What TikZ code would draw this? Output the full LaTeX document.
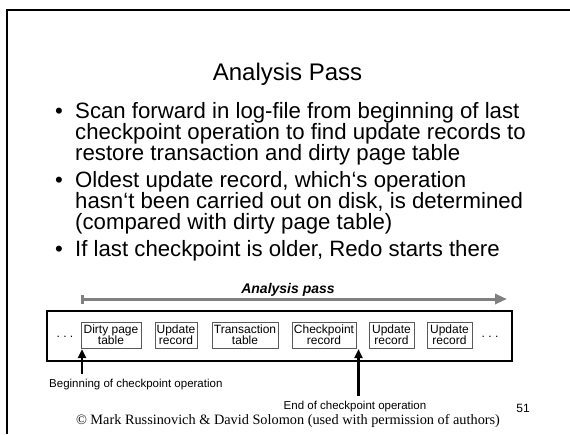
\documentclass[tikz,border=0pt]{standalone}
\usepackage{fontspec}
\setmainfont{Liberation Sans}
\newfontfamily\timesfont{Liberation Serif}
\usetikzlibrary{arrows.meta}
\newcommand\logentryfont{\fontsize{12}{11.2}\selectfont\lineskiplimit=-20pt\relax}

\begin{document}
\begin{tikzpicture}
  [x=1pt,y=-1pt,
   logentry/.style={draw=black!65,line width=.6pt,minimum height=26pt,inner sep=1pt,
     align=center,font=\logentryfont},
   bulletdot/.style={anchor=base west,inner sep=0pt,font=\fontsize{22.2}{21}\selectfont},
   bullettext/.style={anchor=base west,align=left,inner sep=0pt,font=\fontsize{22.2}{21}\selectfont},
   opnote/.style={inner sep=0pt,font=\fontsize{11.5}{12}\selectfont},
   logdots/.style={inner sep=0pt,font=\fontsize{12}{12}\selectfont},
   markarrow/.style={line width=2.5pt,-{Triangle[length=9pt,width=8pt]}}]
  \useasboundingbox (0,0) rectangle (570,434);
  \draw[line width=2pt] (7,434) -- (7,10) -- (570,10);

  \node[anchor=base,inner sep=0pt,font=\fontsize{24}{26}\selectfont] (title) at (287.5,80) {Analysis Pass};
  % bullets (text nodes sit on the baseline of their last line)
  \node[bulletdot] (dot1) at (55,118) {\textbullet};
  \node[bullettext] (scan) at (75,160) {Scan forward in log-file from beginning of last\\
    checkpoint operation to find update records to\\restore transaction and dirty page table};
  \node[bulletdot] (dot2) at (55,187) {\textbullet};
  \node[bullettext] (oldest) at (75,229) {Oldest update record, which‘s operation\\
    hasn‘t been carried out on disk, is determined\\(compared with dirty page table)};
  \node[bulletdot] (dot3) at (55,256.5) {\textbullet};
  \node[bullettext] (redo) at (75,256.5) {If last checkpoint is older, Redo starts there};

  % log file with records
  \node[anchor=base,inner sep=0pt,font=\fontsize{14}{14}\selectfont\bfseries\itshape] (passlabel) at (288,293) {Analysis pass};
  \coordinate (passstart) at (81,299);
  \coordinate (passend) at (507,299);
  \draw[black!50,line width=3pt,{Bar[width=9pt]}-{Triangle[length=12pt,width=10pt]}] (passstart) -- (passend);
  \node[draw,line width=2pt,minimum width=465pt,minimum height=50pt] (logfile) at (279.5,336) {};
  \node[logdots] (leftdots) at (65,337) {.\ .\ .};
  \node[logentry,minimum width=60pt] (dirty) at (111,335) {Dirty page\\table};
  \node[logentry,minimum width=42pt] (update1) at (176,335) {Update\\record};
  \node[logentry,minimum width=66pt] (transaction) at (245,335) {Transaction\\table};
  \node[logentry,minimum width=64pt] (checkpoint) at (324,335) {Checkpoint\\record};
  \node[logentry,minimum width=45pt] (update2) at (391.5,335) {Update\\record};
  \node[logentry,minimum width=45pt] (update3) at (449.5,335) {Update\\record};
  \node[logdots] (rightdots) at (490,337) {.\ .\ .};

  % checkpoint marks
  \node[opnote,anchor=base west] (beginlabel) at (49,387) {Beginning of checkpoint operation};
  \coordinate (beginfoot) at (82,374);
  \coordinate (begintip) at (82,349);
  \draw[markarrow] (beginfoot) -- (begintip);
  \node[opnote,anchor=base] (endlabel) at (355,409) {End of checkpoint operation};
  \coordinate (endfoot) at (358.5,396);
  \coordinate (endtip) at (358.5,349);
  \draw[markarrow] (endfoot) -- (endtip);

  \node[anchor=base,inner sep=0pt,font=\fontsize{12}{12}\selectfont] (pageno) at (523,412) {51};
  \node[anchor=base,inner sep=0pt,font=\timesfont\fontsize{14.3}{15}\selectfont] (credit) at (288,424)
    {\textcopyright{} Mark Russinovich \& David Solomon (used with permission of authors)};
\end{tikzpicture}
\end{document}
